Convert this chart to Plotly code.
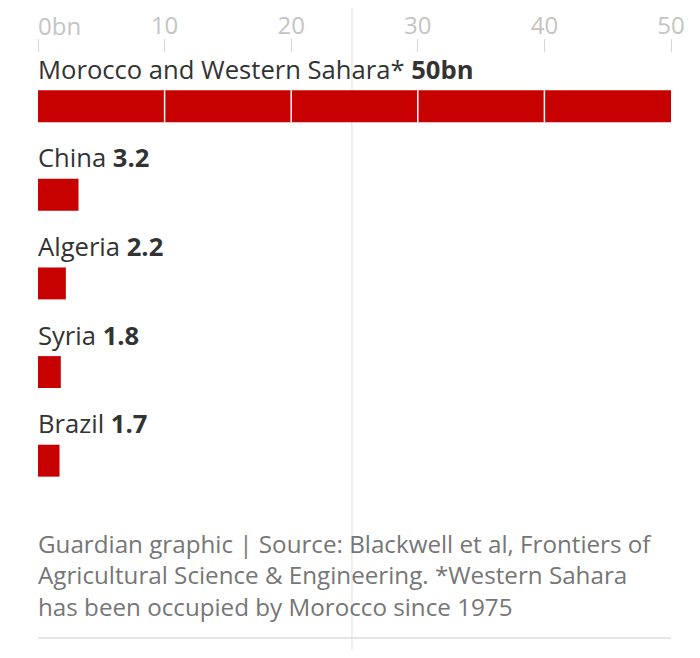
import plotly.graph_objects as go

# data
COUNTRIES = ["Morocco and Western Sahara*", "China", "Algeria", "Syria", "Brazil"]
RESERVES_BN = [50, 3.2, 2.2, 1.8, 1.7]
VALUE_LABELS = ["50bn", "3.2", "2.2", "1.8", "1.7"]
TICK_VALS = [0, 10, 20, 30, 40, 50]
TICK_TEXT = ["0bn", "10", "20", "30", "40", "50"]
SOURCE = (
    "Guardian graphic | Source: Blackwell et al, Frontiers of<br>"
    "Agricultural Science & Engineering. *Western Sahara<br>"
    "has been occupied by Morocco since 1975"
)

RED = "#c70000"
FONT = "Open Sans"
BAR_W = 0.36


def build_figure() -> go.Figure:
    idx = list(range(len(COUNTRIES)))
    fig = go.Figure(
        go.Bar(
            x=RESERVES_BN,
            y=idx,
            orientation="h",
            width=BAR_W,
            marker=dict(color=RED, line=dict(width=0)),
            hoverinfo="skip",
            showlegend=False,
        )
    )

    annotations = []
    for i, (name, val) in enumerate(zip(COUNTRIES, VALUE_LABELS)):
        annotations.append(
            dict(
                x=0,
                y=i,
                xref="x",
                yref="y",
                text=f"{name} <b>{val}</b>",
                showarrow=False,
                xanchor="left",
                yanchor="middle",
                xshift=-2,
                yshift=37,
                font=dict(family=FONT, size=25.6, color="#333333"),
            )
        )

    # first tick label is left aligned on the reference
    annotations.append(
        dict(
            x=TICK_VALS[0],
            y=1,
            xref="x",
            yref="paper",
            yanchor="bottom",
            xanchor="left",
            xshift=-2,
            yshift=9,
            text=TICK_TEXT[0],
            showarrow=False,
            font=dict(family=FONT, size=24, color="#c4c4c4"),
        )
    )

    annotations.append(
        dict(
            x=0,
            y=-0.045,
            xref="paper",
            yref="paper",
            xanchor="left",
            yanchor="top",
            align="left",
            xshift=-2,
            text=SOURCE,
            showarrow=False,
            font=dict(family=FONT, size=24.2, color="#767676"),
        )
    )

    # white grid lines cut through the long bar
    shapes = [
        dict(
            type="line",
            xref="x",
            yref="y",
            x0=v,
            x1=v,
            y0=-BAR_W / 2,
            y1=BAR_W / 2,
            line=dict(color="white", width=1.5),
            layer="above",
        )
        for v in TICK_VALS[1:-1]
    ]
    # page centre line and bottom rule
    shapes.append(
        dict(
            type="line",
            xref="paper",
            yref="paper",
            x0=0.496,
            x1=0.496,
            y0=-0.4,
            y1=1.2,
            line=dict(color="#dddddd", width=1),
            layer="below",
        )
    )
    shapes.append(
        dict(
            type="line",
            xref="paper",
            yref="paper",
            x0=0,
            x1=1,
            y0=-0.294,
            y1=-0.294,
            line=dict(color="#dcdcdc", width=1.5),
        )
    )

    # page body has an 8px margin, so the figure is sized to fit inside it
    fig.update_layout(
        width=684,
        height=642,
        margin=dict(l=30, r=21, t=45, b=145, autoexpand=False),
        paper_bgcolor="white",
        plot_bgcolor="white",
        annotations=annotations,
        shapes=shapes,
        font=dict(family=FONT),
    )
    fig.update_xaxes(
        side="top",
        automargin=False,
        range=[0, 50],
        tickvals=TICK_VALS,
        ticktext=[""] + TICK_TEXT[1:],
        ticks="outside",
        ticklen=13,
        tickwidth=1,
        tickcolor="#d6d6d6",
        ticklabelstandoff=-5,
        tickfont=dict(family=FONT, size=24, color="#c4c4c4"),
        showgrid=False,
        zeroline=False,
        showline=False,
    )
    fig.update_yaxes(
        automargin=False,
        range=[4.5, -0.6],
        showticklabels=False,
        showgrid=False,
        zeroline=False,
        showline=False,
    )
    return fig


fig = build_figure()
fig.write_html("out.html")
